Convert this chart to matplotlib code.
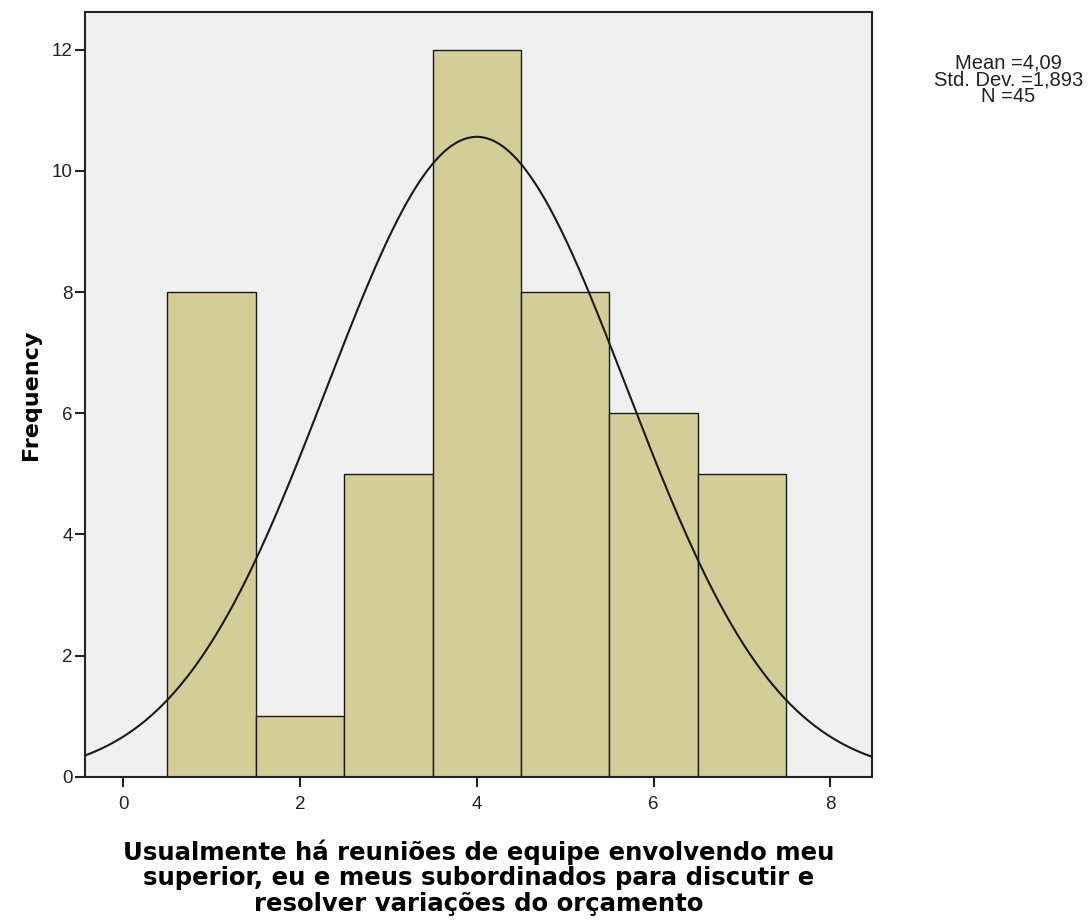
import numpy as np
import matplotlib
matplotlib.use("Agg")
import matplotlib.pyplot as plt

plt.rcParams['font.family'] = ['Liberation Sans', 'DejaVu Sans']

# histogram data
bin_centers = [1, 2, 3, 4, 5, 6, 7]
counts = [8, 1, 5, 12, 8, 6, 5]
# normal curve as drawn (peak and spread)
curve_mean = 4.0
curve_sd = 1.70
n_total = 45
stats_text = "Mean =4,09\nStd. Dev. =1,893\nN =45"
xlabel = ("Usualmente há reuniões de equipe envolvendo meu\n"
          "superior, eu e meus subordinados para discutir e\n"
          "resolver variações do orçamento")

fig = plt.figure(figsize=(10.9, 9.21), dpi=100)
ax = fig.add_axes([0.078, 0.1564, 0.722, 0.8306])
ax.set_facecolor('#F0F0F0')

ax.bar(bin_centers, counts, width=1.0, color='#D3CE97', edgecolor='#1a1a1a',
       linewidth=1.0, zorder=2)

xs = np.linspace(-0.5, 8.5, 400)
ys = n_total * np.exp(-(xs - curve_mean) ** 2 / (2 * curve_sd ** 2)) / (curve_sd * np.sqrt(2 * np.pi))
ax.plot(xs, ys, color='#1a1a1a', linewidth=1.5, zorder=3)

ax.set_xlim(-0.43, 8.47)
ax.set_ylim(0, 12.62)
ax.set_xticks([0, 2, 4, 6, 8])
ax.set_yticks([0, 2, 4, 6, 8, 10, 12])
ax.tick_params(direction='out', length=7, width=1.5, labelsize=13.5, colors='#222222')
ax.tick_params(axis='x', pad=7)
ax.tick_params(axis='y', pad=2)
for s in ax.spines.values():
    s.set_linewidth(1.5)
    s.set_color('#222222')

ax.set_ylabel('Frequency', fontsize=16, fontweight='bold', labelpad=8,
              family='DejaVu Sans')
ax.set_xlabel(xlabel, fontsize=17.6, fontweight='bold', labelpad=19, linespacing=1.06,
              family='DejaVu Sans')

fig.text(0.925, 0.913, stats_text, ha='center', va='center', fontsize=14.5,
         linespacing=0.85, color='#222222')

fig.savefig('out.png', dpi=100)
